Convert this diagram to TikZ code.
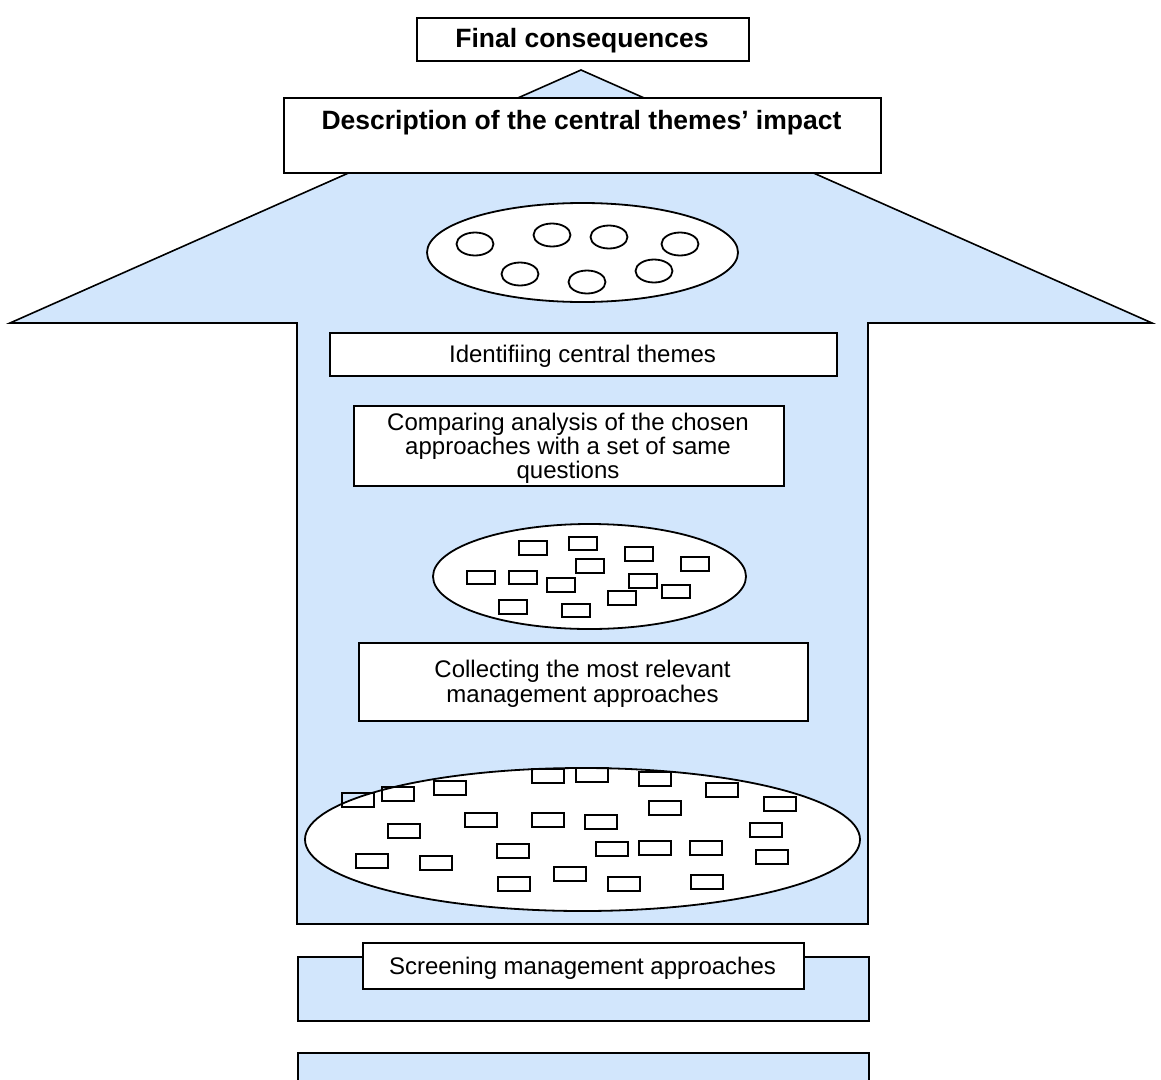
\documentclass[tikz,border=0pt]{standalone}
\usepackage{fontspec}
\setmainfont{Liberation Sans}
\usetikzlibrary{shapes.geometric}
\definecolor{arrowblue}{RGB}{210,230,252}
\begin{document}
\begin{tikzpicture}[x=1pt,y=-1pt,
  outline/.style={draw=black,line width=1.6pt,line join=miter},
  whitebox/.style={outline,fill=white,inner sep=0pt,anchor=north west},
  bigoval/.style={ellipse,draw=black,line width=1.8pt,fill=white,inner sep=0pt},
  smallcirc/.style={ellipse,draw=black,line width=1.8pt,inner sep=0pt,minimum width=37pt,minimum height=23pt},
  recA/.style={rectangle,draw=black,line width=2pt,inner sep=0pt,minimum width=28pt,minimum height=13.5pt},
  recB/.style={rectangle,draw=black,line width=2pt,inner sep=0pt,minimum width=32pt,minimum height=14pt},
  boldtxt/.style={anchor=base,inner sep=0pt,font=\bfseries\fontsize{26.5}{30}\selectfont},
  regtxt/.style={anchor=base,inner sep=0pt,font=\fontsize{24}{27.6}\selectfont}
]
\clip (0,0) rectangle (1161,1079);
\fill[white] (0,0) rectangle (1161,1079);

% big arrow
\draw[outline,fill=arrowblue] (581,70) -- (1152,323) -- (868,323) -- (868,924)
  -- (297,924) -- (297,323) -- (10,323) -- cycle;

% top boxes
\node[whitebox,minimum width=332pt,minimum height=43pt] (finalbox) at (416,17) {};
\node[boldtxt] (finaltext) at (582,47.5) {Final consequences};
\node[whitebox,minimum width=597pt,minimum height=75pt] (descbox) at (283,97) {};
\node[boldtxt] (desctext) at (581.5,129) {Description of the central themes’ impact};

% oval with circles
\node[bigoval,minimum width=311pt,minimum height=99pt] (themeoval) at (582.5,252.5) {};
\foreach \cx/\cy [count=\i] in {475/244,552/235,609/237,680/244,520/274,587/282,654/271}
  \node[smallcirc] (circ\i) at (\cx,\cy) {};

% identifying box
\node[whitebox,minimum width=507pt,minimum height=43pt] (identbox) at (329,332) {};
\begin{scope}
  \clip (329,332) rectangle (836,368.5);
  \node[regtxt] (identtext) at (582.5,362) {Identifiing central themes};
\end{scope}

% comparing box
\node[whitebox,minimum width=430pt,minimum height=80pt] (compbox) at (353,405) {};
\node[regtxt] (comp1) at (568,430) {Comparing analysis of the chosen};
\node[regtxt] (comp2) at (568,454) {approaches with a set of same};
\node[regtxt] (comp3) at (568,478) {questions};

% middle oval
\node[bigoval,minimum width=313pt,minimum height=105pt] (midoval) at (589.5,576.5) {};
\foreach \cx/\cy [count=\i] in {533/548,583/543.5,638.5/554,589.5/566,695/564,480.5/577.5,523/577.5,560.5/585,642.5/581,675.5/591.5,621.5/598,513/607,575.5/610.5}
  \node[recA] (ma\i) at (\cx,\cy) {};

% collecting box
\node[whitebox,minimum width=449pt,minimum height=78pt] (collbox) at (358,642) {};
\node[regtxt] (coll1) at (582.5,677) {Collecting the most relevant};
\node[regtxt] (coll2) at (582.5,702) {management approaches};

% large oval
\node[bigoval,minimum width=555pt,minimum height=143pt] (bigoval1) at (582.5,839.5) {};
\foreach \cx/\cy [count=\i] in {358/799.5,398/793.5,449.5/788,548/775.5,591.5/775,481/820,548/820,601/821.5,403.5/830.5,372/861,435.5/862.5,513/851,513.5/884,570/874,655/779,721.5/790,779.5/804,665/808,765.5/830,611.5/849,655/848,706/848,771.5/857,623.5/884,707/882}
  \node[recB] (mb\i) at (\cx,\cy) {};

% lower bars
\node[whitebox,fill=arrowblue,minimum width=571pt,minimum height=64pt] (bar1) at (297,956) {};
\node[whitebox,minimum width=441pt,minimum height=46pt] (screenbox) at (362,942) {};
\begin{scope}
  \clip (362,942) rectangle (803,978);
  \node[regtxt] (screentext) at (582.5,974) {Screening management approaches};
\end{scope}
\node[whitebox,fill=arrowblue,minimum width=571pt,minimum height=60pt] (bar2) at (297,1052) {};
\end{tikzpicture}
\end{document}
